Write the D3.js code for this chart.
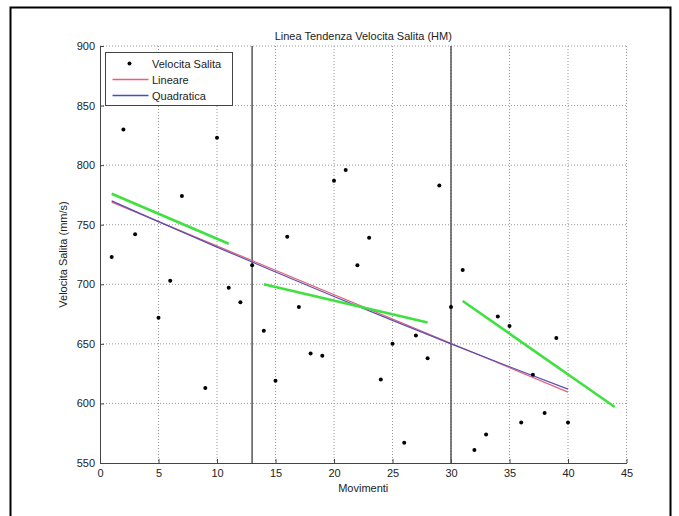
<!DOCTYPE html>
<html>
<head>
<meta charset="utf-8">
<script src="https://cdn.jsdelivr.net/npm/d3@7"></script>
<style>
  body { margin: 0; background: #fff; }
  svg text { font-family: "Liberation Sans", Arial, sans-serif; fill: #222; }
</style>
</head>
<body>
<div id="chart"></div>
<script>
// punti misurati (movimento, velocita salita mm/s)
const movimenti = [1,2,3,5,6,7,9,10,11,12,13,14,15,16,17,18,19,20,21,22,23,24,25,26,27,28,29,30,31,32,33,34,35,36,37,38,39,40]
const velocita  = [723,830,742,672,703,774,613,823,697,685,716,661,619,740,681,642,640,787,796,716,739,620,650,567,657,638,783,681,712,561,574,673,665,584,624,592,655,584]

// linee di tendenza
const lineare = [[1, 769], [40, 609.5]]
const quadraticaX = [1, 5, 10, 15, 20, 25, 30, 35, 40]
const quadraticaY = [770, 752.6, 731.2, 710.3, 689.7, 669.7, 650, 630.8, 612]
const tratti = [
  [[1, 776], [11, 734]],
  [[14, 700], [28, 668]],
  [[31, 686], [44, 597]]
]
const separatori = [13, 30]

const xTicks = [0, 5, 10, 15, 20, 25, 30, 35, 40, 45]
const yTicks = [550, 600, 650, 700, 750, 800, 850, 900]

const width = 679
const height = 516
const margin = { top: 46, bottom: 53, left: 100, right: 52.5 }
const w = width - margin.left - margin.right
const h = height - margin.top - margin.bottom

const svg = d3.select("#chart").append("svg").attr("width", width).attr("height", height)

// cornice esterna
svg.append("path")
  .attr("d", `M10.5,${height + 2} L10.5,7.5 L670.5,7.5 L670.5,${height + 2}`)
  .attr("fill", "none").attr("stroke", "#000").attr("stroke-width", 2)

const g = svg.append("g").attr("transform", `translate(${margin.left}, ${margin.top})`)

const x = d3.scaleLinear().domain([0, 45]).range([0, w])
const y = d3.scaleLinear().domain([550, 900]).range([h, 0])

// griglia
g.append("g").selectAll("line").data(xTicks.slice(1)).join("line")
  .attr("x1", d => x(d)).attr("x2", d => x(d)).attr("y1", 0).attr("y2", h)
  .attr("stroke", "#999").attr("stroke-dasharray", "1,2")
g.append("g").selectAll("line").data(yTicks.slice(1)).join("line")
  .attr("x1", 0).attr("x2", w).attr("y1", d => y(d)).attr("y2", d => y(d))
  .attr("stroke", "#999").attr("stroke-dasharray", "1,2")

// assi
const xAxis = d3.axisBottom(x).tickValues(xTicks).tickSizeInner(-4).tickSizeOuter(0).tickPadding(6)
const yAxis = d3.axisLeft(y).tickValues(yTicks).tickSizeInner(-4).tickSizeOuter(0).tickPadding(5)
const xg = g.append("g").attr("transform", `translate(0, ${h})`).call(xAxis)
const yg = g.append("g").call(yAxis)
;[xg, yg].forEach(a => {
  a.selectAll("path, line").attr("stroke", "#444")
  a.selectAll("text").style("font-size", "11px").attr("fill", "#333")
})

// separatori verticali
g.append("g").selectAll("line").data(separatori).join("line")
  .attr("x1", d => x(d)).attr("x2", d => x(d)).attr("y1", 0).attr("y2", h)
  .attr("stroke", "#555").attr("stroke-width", 1.5)

const line = d3.line().x(d => x(d[0])).y(d => y(d[1]))

// tendenze
g.append("path").datum(lineare).attr("d", line)
  .attr("fill", "none").attr("stroke", "#e0607a").attr("stroke-width", 1.2)
g.append("path").datum(quadraticaX.map((v, i) => [v, quadraticaY[i]]))
  .attr("d", line.curve(d3.curveMonotoneX))
  .attr("fill", "none").attr("stroke", "#5a4fb0").attr("stroke-width", 1.2)
line.curve(d3.curveLinear)
g.append("g").selectAll("path").data(tratti).join("path")
  .attr("d", line)
  .attr("fill", "none").attr("stroke", "#3fe03f").attr("stroke-width", 2.6)

// punti
g.append("g").selectAll("circle").data(movimenti).join("circle")
  .attr("cx", d => x(d)).attr("cy", (d, i) => y(velocita[i])).attr("r", 2)
  .attr("fill", "#000")

// titolo ed etichette
svg.append("text").attr("x", margin.left + w / 2).attr("y", 40)
  .attr("text-anchor", "middle").style("font-size", "11px")
  .text("Linea Tendenza Velocita Salita (HM)")
svg.append("text").attr("x", margin.left + w / 2).attr("y", 492)
  .attr("text-anchor", "middle").style("font-size", "11px")
  .text("Movimenti")
svg.append("text")
  .attr("transform", `translate(67, ${margin.top + h / 2}) rotate(-90)`)
  .attr("text-anchor", "middle").style("font-size", "11px")
  .text("Velocita Salita (mm/s)")

// legenda
const leg = svg.append("g").attr("transform", "translate(105.5, 52.5)")
leg.append("rect").attr("width", 127).attr("height", 53)
  .attr("fill", "#fff").attr("stroke", "#444")
const voci = ["Velocita Salita", "Lineare", "Quadratica"]
const coloriVoci = ["#000", "#ee5a78", "#4a4ac8"]
voci.forEach((t, i) => {
  const yy = 11 + i * 16
  if (i === 0) {
    leg.append("circle").attr("cx", 24).attr("cy", yy).attr("r", 2).attr("fill", "#000")
  } else {
    leg.append("line").attr("x1", 7).attr("x2", 43).attr("y1", yy).attr("y2", yy)
      .attr("stroke", coloriVoci[i]).attr("stroke-width", 1.4)
  }
  leg.append("text").attr("x", 46.5).attr("y", yy + 4).style("font-size", "11px").text(t)
})
</script>
</body>
</html>
